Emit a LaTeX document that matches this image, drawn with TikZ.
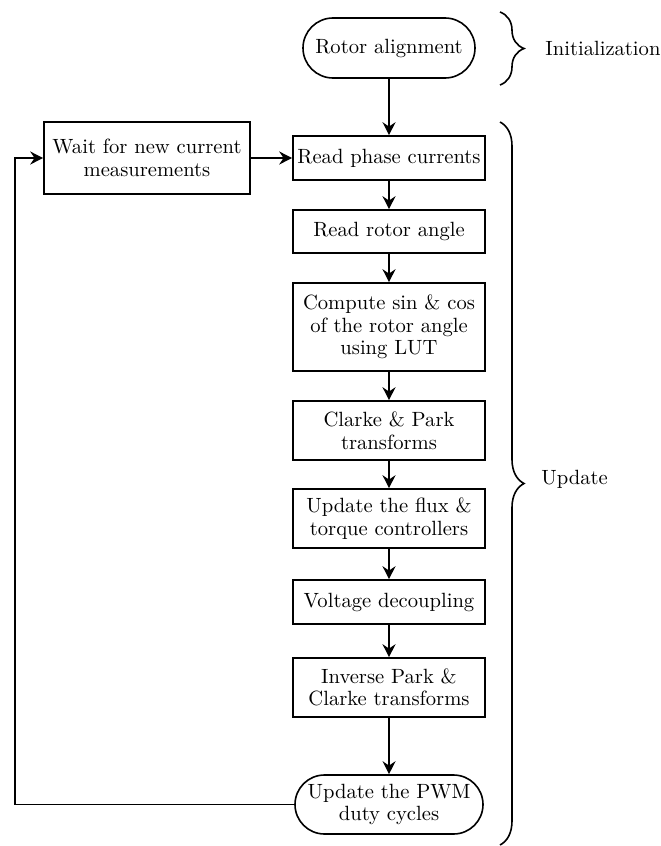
\documentclass[tikz,border=0pt]{standalone}
\usetikzlibrary{arrows.meta,shapes.misc,decorations.pathreplacing}
\tikzset{
  every node/.style={font=\fontsize{10.3}{11.3}\selectfont, align=center, inner sep=1pt},
  procbox/.style={draw, line width=0.8pt, rectangle, minimum width=96pt},
  termbox/.style={draw, line width=0.8pt, rounded rectangle, minimum width=96pt},
  flow/.style={line width=0.8pt, -{Stealth[length=6.5pt,width=6.5pt,inset=2.2pt]}},
  grpbrace/.style={line width=0.8pt, decorate, decoration={brace, amplitude=12pt}},
  grplabel/.style={anchor=west, inner sep=0pt}
}
\begin{document}
\begin{tikzpicture}[x=0.5pt,y=-0.5pt]
\useasboundingbox (0,0) rectangle (660,846);
% nodes
\node[termbox, minimum width=88pt, minimum height=30pt] (rotor) at (389,48) {Rotor alignment};
\node[procbox, minimum width=103pt, minimum height=36pt] (wait) at (147,158) {Wait for new current\\measurements};
\node[procbox, minimum height=22pt] (read) at (389,158) {Read phase currents};
\node[procbox, minimum height=21.5pt] (angle) at (389,231.5) {Read rotor angle};
\node[procbox, minimum height=44pt] (lut) at (389,327) {Compute sin \& cos\\of the rotor angle\\using LUT};
\node[procbox, minimum height=29.5pt] (clarke) at (389,430.5) {Clarke \& Park\\transforms};
\node[procbox, minimum height=29.5pt] (flux) at (389,518.5) {Update the flux \&\\torque controllers};
\node[procbox, minimum height=22pt] (volt) at (389,602) {Voltage decoupling};
\node[procbox, minimum height=29.5pt] (inv) at (389,687.5) {Inverse Park \&\\Clarke transforms};
\node[termbox, minimum height=29.5pt] (pwm) at (389,804.5) {Update the PWM\\duty cycles};
% connectors
\draw[flow] (rotor) -- (read);
\draw[flow] (wait) -- (read);
\draw[flow] (read) -- (angle);
\draw[flow] (angle) -- (lut);
\draw[flow] (lut) -- (clarke);
\draw[flow] (clarke) -- (flux);
\draw[flow] (flux) -- (volt);
\draw[flow] (volt) -- (inv);
\draw[flow] (inv) -- (pwm);
\coordinate (corner) at (15,804.5);
\draw[flow] (pwm.west) -- (corner) |- (wait.west);
% braces
\coordinate (ib1) at (500,12);
\coordinate (ib2) at (500,85);
\draw[grpbrace] (ib1) -- (ib2);
\node[grplabel] (initlbl) at (545,48.5) {Initialization};
\coordinate (ub1) at (500,122);
\coordinate (ub2) at (500,845);
\draw[grpbrace] (ub1) -- (ub2);
\node[grplabel] (updlbl) at (541,479) {Update};
\end{tikzpicture}
\end{document}
